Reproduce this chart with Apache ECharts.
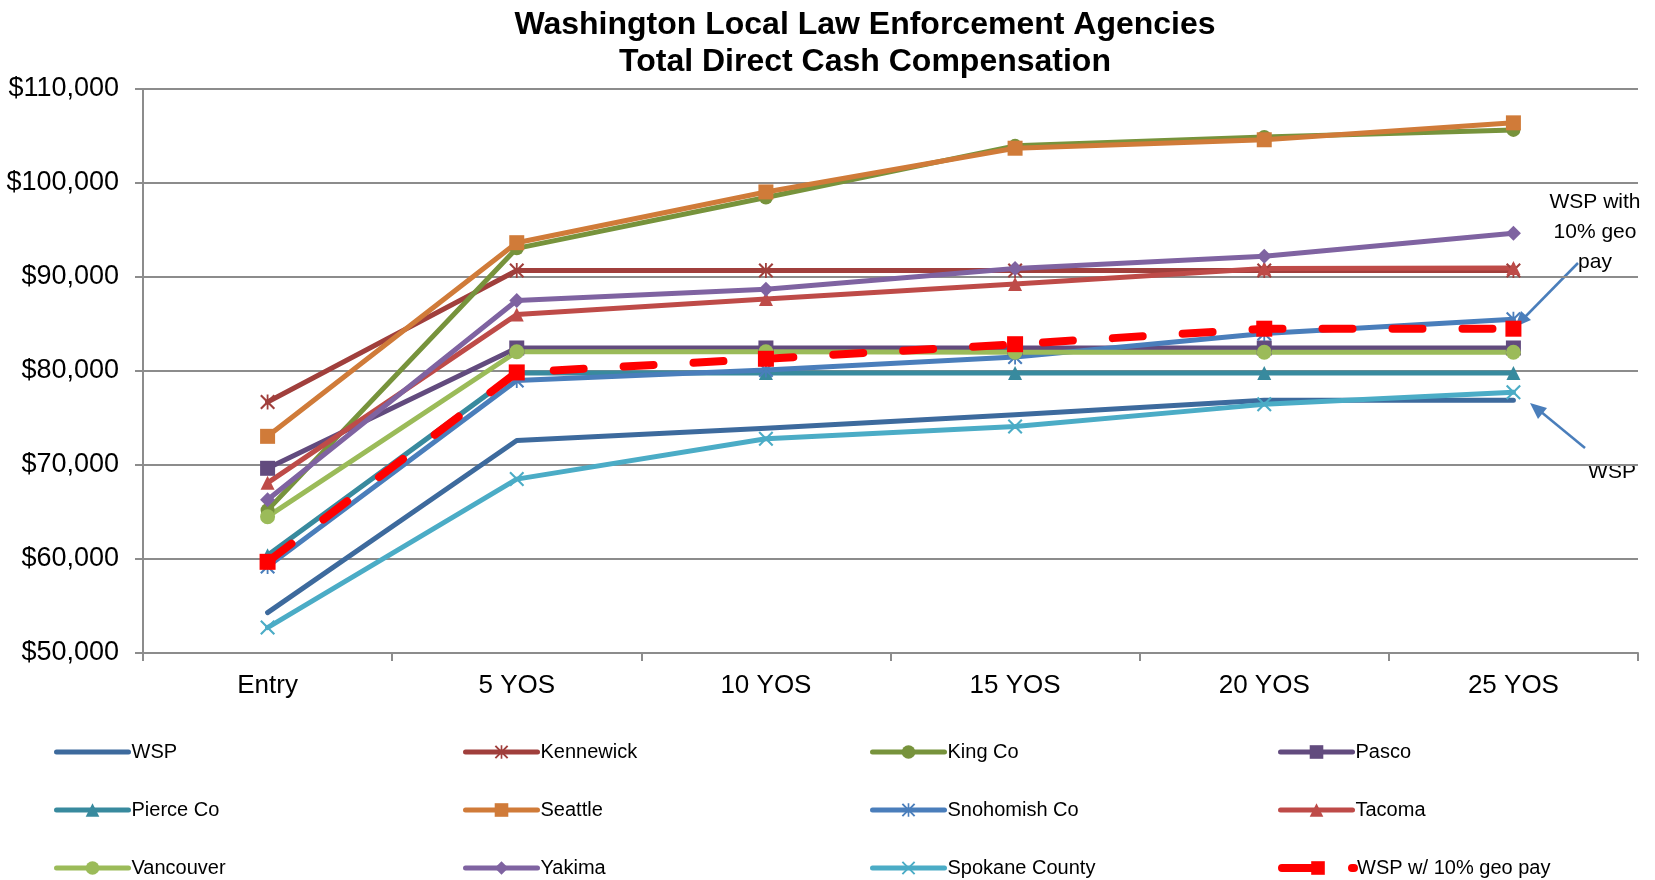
<!DOCTYPE html>
<html>
<head>
<meta charset="utf-8">
<script src="https://cdn.jsdelivr.net/npm/echarts@6/dist/echarts.min.js"></script>
<style>
  html, body { margin: 0; padding: 0; background: #fff; }
  #container { width: 1655px; height: 880px; }
</style>
</head>
<body>
<div id="container"></div>
<script>
var categories = ['Entry', '5 YOS', '10 YOS', '15 YOS', '20 YOS', '25 YOS'];

var wsp       = [54300, 72600, 73900, 75350, 76900, 76900];
var kennewick = [76700, 90700, 90700, 90700, 90700, 90700];
var kingCo    = [65200, 93050, 98450, 103950, 104900, 105650];
var pasco     = [69650, 82450, 82450, 82450, 82450, 82450];
var pierceCo  = [60400, 79800, 79800, 79800, 79800, 79800];
var seattle   = [73050, 93650, 99050, 103700, 104600, 106400];
var snohomish = [59200, 79000, 80100, 81500, 84000, 85500];
var tacoma    = [68100, 86000, 87650, 89250, 90900, 90950];
var vancouver = [64500, 82050, 82050, 82000, 82000, 82000];
var yakima    = [66300, 87500, 88700, 90900, 92200, 94650];
var spokane   = [52700, 68500, 72800, 74100, 76450, 77750];
var wspGeo    = [59700, 79850, 81300, 82850, 84500, 84500];

var FONT = 'Liberation Sans, Arial, sans-serif';
var GRID = '#8c8c8c';

// excel style marker shapes
var xMark = 'path://M0 1L1 0L5 4L9 0L10 1L6 5L10 9L9 10L5 6L1 10L0 9L4 5Z';
var starMark = 'path://M0 1L1 0L5 4L9 0L10 1L6 5L10 9L9 10L5 6L1 10L0 9L4 5Z M4.4 0L5.6 0L5.6 10L4.4 10Z';

function line(name, data, color, symbol, size) {
    return {
        name: name,
        type: 'line',
        data: data,
        symbol: symbol || 'none',
        symbolSize: size || 14,
        showSymbol: !!symbol,
        lineStyle: { color: color, width: 5, cap: 'round', join: 'round' },
        itemStyle: { color: color },
        emphasis: { disabled: true },
        animation: false
    };
}

var series = [
    line('WSP', wsp, '#3D6A9D', null),
    line('Kennewick', kennewick, '#A03F3C', starMark, 15),
    line('King Co', kingCo, '#77933C', 'circle', 14),
    line('Pasco', pasco, '#624B7E', 'rect', 15),
    line('Pierce Co', pierceCo, '#388A9E', 'triangle', 14),
    line('Seattle', seattle, '#D07B39', 'rect', 15),
    line('Snohomish Co', snohomish, '#4A7EBB', starMark, 15),
    line('Tacoma', tacoma, '#BE4B48', 'triangle', 14),
    line('Vancouver', vancouver, '#9BBB59', 'circle', 15),
    line('Yakima', yakima, '#7F63A1', 'diamond', 15),
    line('Spokane County', spokane, '#4BACC6', xMark, 15),
    line('WSP w/ 10% geo pay', wspGeo, '#FF0000', 'rect', 16)
];
series[11].lineStyle.width = 8;
series[11].lineStyle.type = [30, 40];

// one legend per item so the columns line up like the original
var colLeft = [54, 463, 870, 1278];
var rowTop = [742, 800, 858];
var legends = series.map(function (s, i) {
    var lg = {
        left: colLeft[i % 4],
        top: rowTop[Math.floor(i / 4)],
        padding: 0,
        itemWidth: 72,
        itemHeight: 17,
        selectedMode: false,
        lineStyle: { width: 'inherit' },
        data: [s.name],
        textStyle: { fontFamily: FONT, fontSize: 20, color: '#000', padding: [0, 0, 0, -2] }
    };
    if (s.symbol === 'none') {
        lg.data = [{ name: s.name, itemStyle: { opacity: 0 } }];
    }
    return lg;
});

function txt(s, x, y, size, weight) {
    return {
        type: 'text', x: x, y: y, silent: true,
        style: { text: s, fontFamily: FONT, fontSize: size, fontWeight: weight || 'normal',
                 fill: '#000', align: 'center', verticalAlign: 'middle' }
    };
}
var ARROW = '#4A7EBB';

var dom = document.getElementById('container');
var myChart = echarts.init(dom, null, { renderer: 'canvas' });

var option = {
    backgroundColor: '#fff',
    animation: false,
    grid: { left: 143, right: 17, top: 89, bottom: 227 },
    legend: legends,
    xAxis: {
        type: 'category',
        data: categories,
        boundaryGap: true,
        axisLine: { lineStyle: { color: GRID, width: 2 } },
        axisTick: { show: true, length: 8, lineStyle: { color: GRID, width: 2 } },
        axisLabel: { color: '#000', fontFamily: FONT, fontSize: 26, margin: 20 }
    },
    yAxis: {
        type: 'value',
        min: 50000,
        max: 110000,
        interval: 10000,
        axisLine: { show: true, lineStyle: { color: GRID, width: 2 } },
        axisTick: { show: true, length: 8, lineStyle: { color: GRID, width: 2 } },
        splitLine: { lineStyle: { color: GRID, width: 2 } },
        axisLabel: {
            color: '#000', fontFamily: FONT, fontSize: 27, margin: 24,
            formatter: function (v) { return '$' + v.toLocaleString('en-US'); }
        }
    },
    graphic: [
        txt('Washington Local Law Enforcement Agencies', 865, 25, 32, 'bold'),
        txt('Total Direct Cash Compensation', 865, 62, 32, 'bold'),
        txt('WSP with', 1595, 202, 21),
        txt('10% geo', 1595, 232, 21),
        txt('pay', 1595, 262, 21),
        txt('WSP', 1612, 472, 21),
        { type: 'line', silent: true, shape: { x1: 1578, y1: 263, x2: 1524, y2: 318 },
          style: { stroke: ARROW, lineWidth: 2.5 } },
        { type: 'polygon', silent: true, shape: { points: [[1515, 327], [1531, 320], [1521, 311]] },
          style: { fill: ARROW } },
        { type: 'line', silent: true, shape: { x1: 1585, y1: 448, x2: 1540, y2: 411 },
          style: { stroke: ARROW, lineWidth: 2.5 } },
        { type: 'polygon', silent: true, shape: { points: [[1530, 403], [1547, 408], [1538, 419]] },
          style: { fill: ARROW } }
    ],
    series: series
};

if (option && typeof option === 'object') {
    myChart.setOption(option);
}

window.addEventListener('resize', myChart.resize);
</script>
</body>
</html>
